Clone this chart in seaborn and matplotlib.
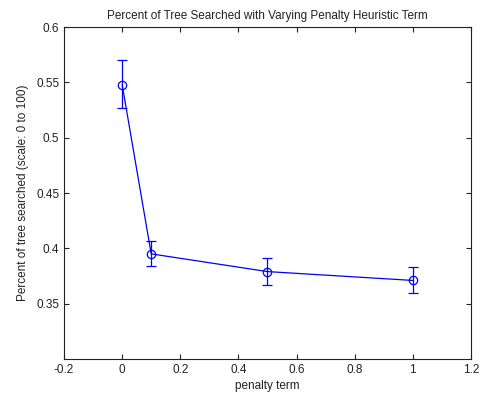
import matplotlib
matplotlib.use("Agg")
import matplotlib.pyplot as plt
import seaborn as sns
import pandas as pd

# Өгөгдөл
penalty = [0.0, 0.1, 0.5, 1.0]
searched = [0.548, 0.395, 0.379, 0.371]
err_low = [0.527, 0.384, 0.367, 0.360]
err_high = [0.570, 0.407, 0.391, 0.383]

x_ticks = [-0.2, 0, 0.2, 0.4, 0.6, 0.8, 1, 1.2]
x_labels = ["-0.2", "0", "0.2", "0.4", "0.6", "0.8", "1", "1.2"]
y_ticks = [0.35, 0.4, 0.45, 0.5, 0.55, 0.6]
y_labels = ["0.35", "0.4", "0.45", "0.5", "0.55", "0.6"]

sns.set_style("ticks")
plt.rcParams["font.family"] = ["Liberation Sans", "DejaVu Sans"]
plt.rcParams["xtick.direction"] = "in"
plt.rcParams["ytick.direction"] = "in"

df = pd.DataFrame({"penalty": penalty, "searched": searched})

fig = plt.figure(figsize=(4.83, 3.96), dpi=100)
ax = fig.add_axes([0.1325, 0.0934, 0.8425, 0.8384])

sns.lineplot(data=df, x="penalty", y="searched", ax=ax, color="#0000ff",
             linewidth=0.9, marker="o", markersize=6, markerfacecolor="none",
             markeredgecolor="#0000ff", markeredgewidth=0.9)
yerr = [[s - lo for s, lo in zip(searched, err_low)],
        [hi - s for s, hi in zip(searched, err_high)]]
ax.errorbar(penalty, searched, yerr=yerr, fmt="none", ecolor="#0000ff",
            elinewidth=0.9, capsize=3.5, capthick=0.9)

ax.set_xlim(-0.2, 1.2)
ax.set_ylim(0.3, 0.6)
ax.set_xticks(x_ticks)
ax.set_xticklabels(x_labels)
ax.set_yticks(y_ticks)
ax.set_yticklabels(y_labels)
ax.tick_params(labelsize=8.5, length=3.5, width=0.8, top=True, right=True,
               colors="#222222")
for sp in ax.spines.values():
    sp.set_visible(True)
    sp.set_linewidth(0.8)
    sp.set_color("#222222")

ax.set_title("Percent of Tree Searched with Varying Penalty Heuristic Term",
             fontsize=8.5, pad=6, color="#222222")
ax.set_xlabel("penalty term", fontsize=8.5, labelpad=3, color="#222222")
ax.set_ylabel("Percent of tree searched (scale: 0 to 100)", fontsize=8.5,
              labelpad=5, color="#222222")

fig.savefig("out.png", dpi=100)
